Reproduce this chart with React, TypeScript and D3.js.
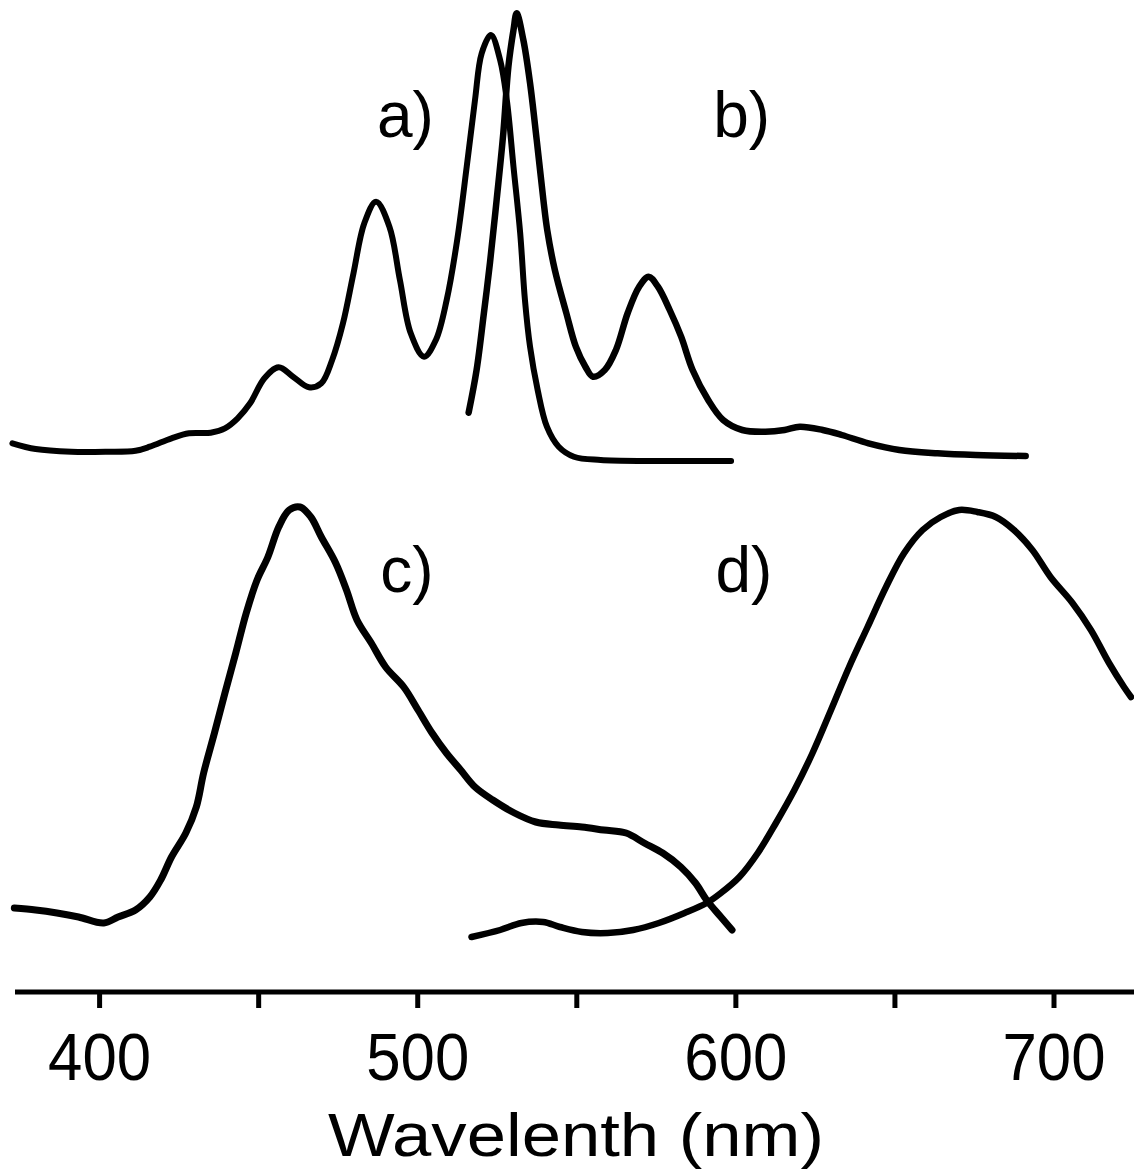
import React, { useEffect } from "react";
import * as d3 from "d3";

// spectra: [wavelength nm, intensity a.u. (stacked offsets)]
const absorptionA: [number, number][] = [
  [372.6, 55.67], [379.9, 55.1], [391.1, 54.83], [402.3, 54.83], [411.3, 54.93], [415.8, 55.33],
  [422.6, 56.17], [428.1, 56.67], [434.9, 56.73], [439.4, 57.17], [443.4, 58.17], [447.3, 59.67],
  [451.8, 62.17], [456.3, 63.27], [460.8, 62.33], [465.8, 61.27], [469.7, 61.67], [473.1, 64.0],
  [476.5, 67.67], [479.8, 72.67], [483.2, 77.67], [486.9, 79.83], [491.1, 77.33], [494.4, 72.0],
  [497.8, 66.67], [502.0, 64.33], [505.7, 66.0], [509.1, 70.0], [512.4, 76.0], [515.4, 83.33],
  [518.0, 90.0], [520.1, 94.67], [523.0, 96.5], [525.9, 94.0], [528.0, 90.0], [530.1, 83.33],
  [532.2, 76.7], [533.7, 70.0], [535.3, 65.33], [537.7, 61.0], [540.6, 57.33], [544.3, 55.33],
  [549.1, 54.33], [557.5, 54.0], [573.2, 53.9], [598.5, 53.9],
];

const emissionB: [number, number][] = [
  [516.0, 58.73], [518.5, 63.0], [520.8, 68.7], [522.7, 73.7], [524.8, 80.0], [526.9, 86.7],
  [528.5, 93.33], [530.1, 97.0], [531.1, 98.67], [533.2, 96.0], [535.3, 91.7], [537.4, 86.0],
  [539.5, 80.0], [540.7, 77.0], [543.1, 73.0], [546.7, 68.7], [549.7, 65.33], [552.7, 63.33],
  [555.1, 62.33], [558.8, 63.0], [562.3, 65.0], [566.0, 68.7], [569.6, 71.33], [572.6, 72.33],
  [575.5, 71.33], [579.2, 69.0], [582.8, 66.33], [586.4, 63.0], [591.3, 60.0], [596.0, 58.0],
  [602.0, 57.0], [609.3, 56.83], [615.3, 57.0], [620.1, 57.33], [627.3, 57.0], [633.3, 56.5],
  [641.7, 55.67], [651.4, 55.0], [663.4, 54.67], [675.4, 54.5], [691.1, 54.4],
];

const spectrumC: [number, number][] = [
  [373.2, 9.2], [379.9, 9.0], [386.6, 8.7], [393.4, 8.3], [401.3, 7.7], [405.8, 8.3], [411.3, 9.0],
  [415.8, 10.3], [419.2, 12.0], [422.6, 14.3], [427.1, 16.7], [430.4, 19.3], [432.7, 22.7],
  [436.1, 26.7], [439.4, 30.7], [442.8, 34.7], [446.1, 38.7], [449.5, 42.0], [452.9, 44.3],
  [456.3, 47.3], [459.6, 49.0], [463.0, 49.3], [466.4, 48.3], [469.7, 46.3], [474.2, 43.7],
  [477.6, 41.0], [480.9, 38.0], [485.4, 35.7], [489.9, 33.3], [495.6, 31.3], [500.1, 29.0],
  [504.5, 26.7], [509.0, 24.7], [513.5, 23.0], [518.0, 21.3], [523.6, 20.0], [530.4, 18.7],
  [537.1, 17.8], [544.3, 17.5], [551.6, 17.3], [558.5, 17.0], [565.5, 16.7], [571.2, 15.7],
  [577.0, 14.7], [582.7, 13.3], [587.3, 11.7], [590.8, 10.0], [595.3, 8.3], [598.8, 7.0],
];

const spectrumD: [number, number][] = [
  [516.9, 6.3], [525.9, 7.0], [532.6, 7.7], [539.4, 7.8], [544.7, 7.3], [551.6, 6.8], [559.7, 6.7],
  [567.7, 7.0], [575.8, 7.7], [583.9, 8.7], [590.8, 9.7], [595.3, 10.7], [601.1, 12.3],
  [606.9, 14.7], [612.6, 17.7], [618.4, 21.0], [624.1, 24.7], [629.9, 29.0], [635.6, 33.3],
  [641.4, 37.3], [647.2, 41.3], [652.9, 44.7], [658.7, 47.0], [664.4, 48.3], [670.2, 49.0],
  [675.9, 48.8], [681.7, 48.3], [687.4, 47.0], [693.2, 45.0], [698.9, 42.3], [705.8, 39.7],
  [711.6, 37.0], [717.3, 33.7], [722.0, 31.3], [724.2, 30.3],
];

const tickValues = [400, 450, 500, 550, 600, 650, 700];
const tickLabels = [400, 500, 600, 700];

// panel labels: [text, wavelength, intensity]
const panelLabels: [string, number, number][] = [
  ["a)", 487.2, 86.3],
  ["b)", 592.9, 86.3],
  ["c)", 488.2, 40.8],
  ["d)", 593.6, 40.8],
];

const W = 1134;
const H = 1173;

export default function App() {
  useEffect(() => {
    document.body.style.margin = "0";
  }, []);

  const x = d3.scaleLinear().domain([400, 700]).range([99.6, 1054]);
  const y = d3.scaleLinear().domain([0, 100]).range([1000, 0]);
  const line = d3
    .line<[number, number]>()
    .x((d) => x(d[0]))
    .y((d) => y(d[1]))
    .curve(d3.curveCatmullRom.alpha(0.5));

  const axisY = 992;
  const font = "'Liberation Sans', Arial, sans-serif";

  return (
    <svg width={W} height={H} style={{ display: "block", background: "#fff" }}>
      <g fill="none" stroke="#000" strokeLinecap="round" strokeLinejoin="round">
        <path d={line(absorptionA) || ""} strokeWidth={6} />
        <path d={line(emissionB) || ""} strokeWidth={6.5} />
        <path d={line(spectrumC) || ""} strokeWidth={7} />
        <path d={line(spectrumD) || ""} strokeWidth={6.5} />
      </g>

      {/* x axis */}
      <line x1={15} x2={W} y1={axisY} y2={axisY} stroke="#000" strokeWidth={5} />
      {tickValues.map((t) => (
        <line key={t} x1={x(t)} x2={x(t)} y1={axisY} y2={axisY + 16} stroke="#000" strokeWidth={5} />
      ))}
      {tickLabels.map((t) => (
        <text
          key={t}
          x={x(t)}
          y={1080}
          textAnchor="middle"
          fontFamily={font}
          fontSize={66}
          textLength={103}
          lengthAdjust="spacingAndGlyphs"
        >
          {t}
        </text>
      ))}
      <text
        x={576}
        y={1156}
        textAnchor="middle"
        fontFamily={font}
        fontSize={62}
        textLength={496}
        lengthAdjust="spacingAndGlyphs"
      >
        Wavelenth (nm)
      </text>

      {panelLabels.map(([s, wl, v]) => (
        <text key={s} x={x(wl)} y={y(v)} fontFamily={font} fontSize={64}>
          {s}
        </text>
      ))}
    </svg>
  );
}
